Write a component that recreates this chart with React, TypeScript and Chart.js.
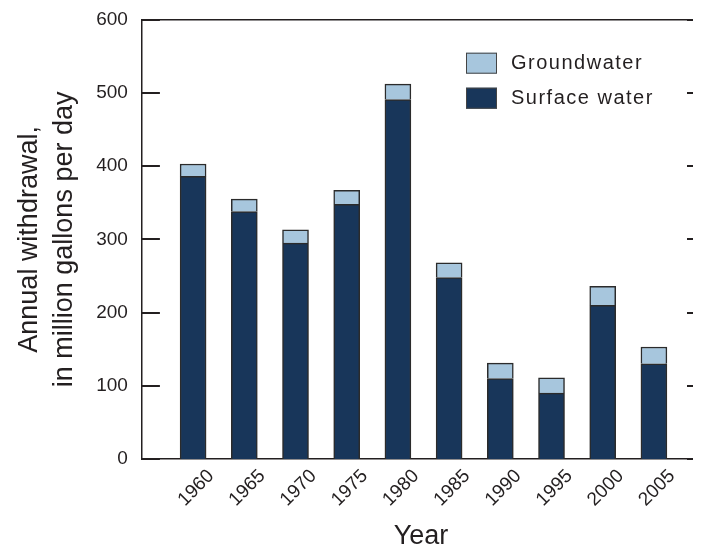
import React, { useEffect, useRef } from "react";
import { Chart, registerables } from "chart.js";

Chart.register(...registerables);

const years = [1960, 1965, 1970, 1975, 1980, 1985, 1990, 1995, 2000, 2005];
const surfaceWater = [386, 338, 295, 348, 491, 248, 110, 90, 210, 130];
const groundwater = [17, 17, 18, 19, 21, 20, 21, 21, 26, 23];
const yTickValues = [0, 100, 200, 300, 400, 500, 600];
const seriesNames = ["Surface water", "Groundwater"];
const seriesColors = ["#18365a", "#a7c6dd"];
const yTitle = ["Annual withdrawal,", "in million gallons per day"];
const xTitle = "Year";

const SANS = "'Liberation Sans', Arial, sans-serif";
const INK = "#231f20";

const framePlugin = {
  id: "frameAndLegend",
  afterDraw(chart: any) {
    const { ctx, chartArea } = chart;
    const { left, right, top } = chartArea;
    const y = chart.scales.y;
    ctx.save();
    ctx.strokeStyle = INK;
    ctx.lineWidth = 1.5;
    ctx.beginPath();
    ctx.moveTo(left, top);
    ctx.lineTo(chart.width, top);
    ctx.stroke();
    ctx.lineWidth = 2;
    yTickValues.forEach((v) => {
      const py = Math.round(y.getPixelForValue(v));
      ctx.beginPath();
      ctx.moveTo(left, py);
      ctx.lineTo(left + 18, py);
      ctx.stroke();
      ctx.beginPath();
      ctx.moveTo(right - 13, py);
      ctx.lineTo(chart.width, py);
      ctx.stroke();
    });
    // legend (top entry = last dataset)
    const bx = right - 234;
    const by = top + 33;
    const order = [1, 0];
    order.forEach((di, row) => {
      const ds = chart.data.datasets[di];
      const yy = by + row * 35;
      ctx.fillStyle = ds.backgroundColor;
      ctx.fillRect(bx, yy, 31, 21);
      ctx.strokeStyle = "#444";
      ctx.lineWidth = 1;
      ctx.strokeRect(bx + 0.5, yy + 0.5, 30, 20);
      ctx.fillStyle = INK;
      ctx.font = `20px ${SANS}`;
      (ctx as any).letterSpacing = "1.5px";
      ctx.textBaseline = "middle";
      ctx.textAlign = "left";
      ctx.fillText(ds.label, bx + 45, yy + 11);
    });
    ctx.restore();
  },
};

export default function App() {
  const ref = useRef<HTMLCanvasElement | null>(null);
  useEffect(() => {
    if (!ref.current) return;
    const chart = new Chart(ref.current, {
      type: "bar",
      data: {
        datasets: [
          {
            label: seriesNames[0],
            data: years.map((yr, i) => ({ x: yr, y: surfaceWater[i] })),
            backgroundColor: seriesColors[0],
            borderColor: "#2b2b2b",
            borderWidth: 1.5,
            barThickness: 26,
          },
          {
            label: seriesNames[1],
            data: years.map((yr, i) => ({ x: yr, y: groundwater[i] })),
            backgroundColor: seriesColors[1],
            borderColor: "#2b2b2b",
            borderWidth: 1.5,
            barThickness: 26,
          },
        ],
      },
      options: {
        animation: false,
        responsive: false,
        maintainAspectRatio: false,
        layout: { padding: { top: 0, right: 1, left: 12, bottom: 0 } },
        plugins: {
          legend: { display: false },
          tooltip: { enabled: false },
        },
        scales: {
          x: {
            type: "linear",
            stacked: true,
            min: 1955,
            max: 2009.5,
            offset: false,
            afterBuildTicks: (scale: any) => {
              scale.ticks = years.map((v) => ({ value: v }));
            },
            grid: { display: false, drawTicks: false },
            border: { display: true, color: INK, width: 1.5 },
            ticks: {
              autoSkip: false,
              minRotation: 45,
              maxRotation: 45,
              padding: 6,
              labelOffset: 18,
              color: INK,
              font: { family: SANS, size: 19 },
              callback: (v: any) => String(v),
            },
            title: {
              display: true,
              text: xTitle,
              color: INK,
              font: { family: SANS, size: 27, lineHeight: 0.96 },
              padding: { top: 7, bottom: 0 },
            },
          },
          y: {
            stacked: true,
            min: 0,
            max: 600,
            afterBuildTicks: (scale: any) => {
              scale.ticks = yTickValues.map((v) => ({ value: v }));
            },
            grid: { display: false, drawTicks: false },
            border: { display: true, color: INK, width: 1.5 },
            ticks: {
              padding: 14,
              color: INK,
              font: { family: SANS, size: 19, lineHeight: 0.6 },
            },
            title: {
              display: true,
              text: yTitle,
              color: INK,
              font: { family: SANS, size: 27, lineHeight: 1.3 },
              padding: { top: 0, bottom: 0 },
            },
          },
        },
      },
      plugins: [framePlugin],
    });
    return () => chart.destroy();
  }, []);
  return (
    <div style={{ width: 701, height: 550, marginTop: -8, marginLeft: -8 }}>
      <canvas ref={ref} width={701} height={550} style={{ display: "block" }} />
    </div>
  );
}
